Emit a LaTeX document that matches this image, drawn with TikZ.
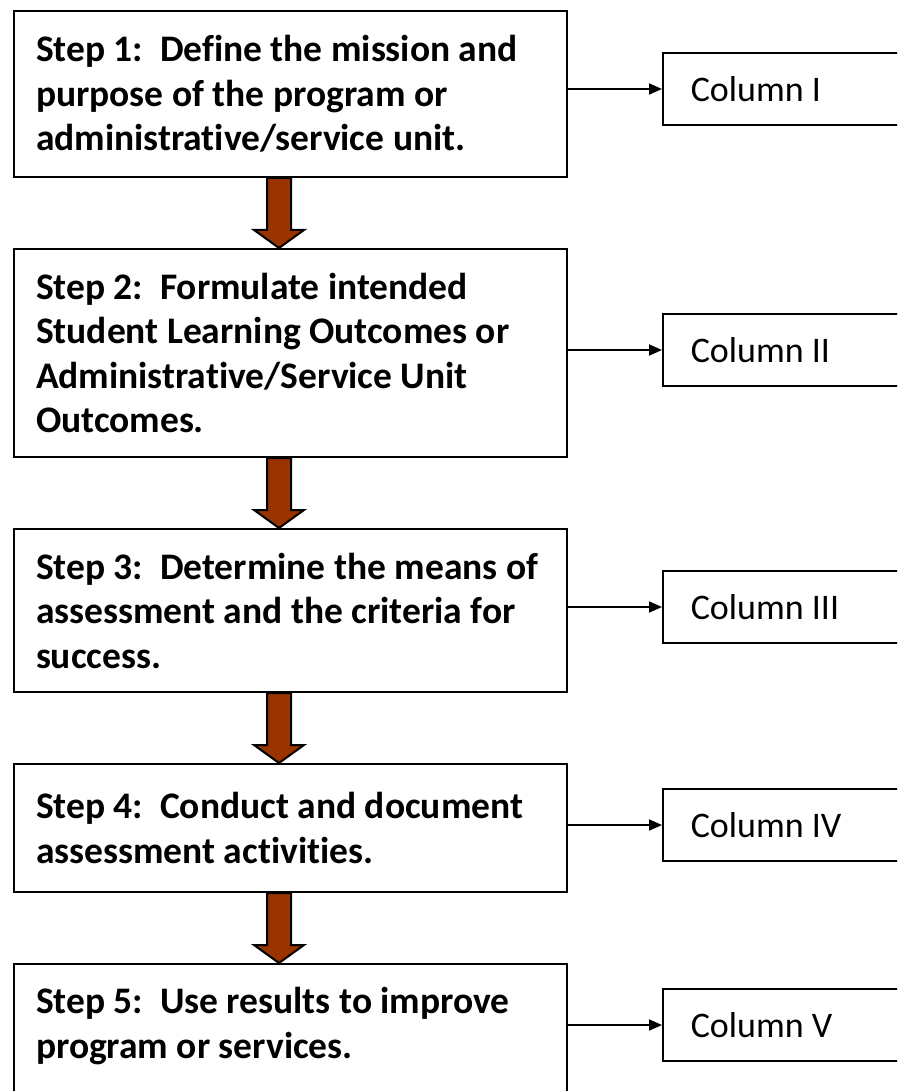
\documentclass[tikz,border=0pt]{standalone}
\usepackage{fontspec}
\setmainfont{Carlito}[Ligatures=NoCommon]
\usetikzlibrary{arrows.meta,positioning,calc}
\definecolor{arrowbrown}{RGB}{153,51,0}
\tikzset{every picture/.style={line width=2pt}}

\begin{document}
\frenchspacing
\begin{tikzpicture}[x=1pt,y=-1pt,
    stepbox/.style={draw, anchor=north west, text width=509pt, inner xsep=22pt, inner ysep=0pt,
      align=flush left, font=\fontsize{37.5}{44.5}\selectfont\bfseries},
    colbox/.style={draw, anchor=west, line width=1.5pt, minimum height=72pt, text width=204pt,
      inner xsep=28pt, align=flush left, font=\fontsize{36}{44}\selectfont},
    blockarrow/.style={draw, line width=2pt, fill=arrowbrown, line join=miter},
    link/.style={-{Triangle[length=13pt,width=11pt]}, line width=1.8pt}]
    \clip (0,0) rectangle (897,1091);

    % Steps
    \node[stepbox, minimum height=166pt] (s1) at (13,10)
      {Step 1:~ Define the mission and\\purpose of the program or\\administrative/service unit.};
    \node[stepbox, minimum height=208pt, below=70pt of s1] (s2)
      {Step 2:~ Formulate intended\\Student Learning Outcomes or\\Administrative/Service Unit\\Outcomes.};
    \node[stepbox, minimum height=163pt, below=70pt of s2] (s3)
      {Step 3:~ Determine the means of\\assessment and the criteria for\\success.};
    \node[stepbox, minimum height=128pt, below=70pt of s3] (s4)
      {Step 4:~ Conduct and document\\assessment activities.};
    \node[stepbox, minimum height=162pt, below=70pt of s4] (s5)
      {Step 5:~ Use results to improve\\program or services.\\\mbox{}};

    % Columns
    \node[colbox] (c1) at (662,89) {Column I};
    \node[colbox] (c2) at (662,350) {Column II};
    \node[colbox] (c3) at (662,607) {Column III};
    \node[colbox] (c4) at (662,825) {Column IV};
    \node[colbox] (c5) at (662,1025) {Column V};

    % Block arrows between steps
    \foreach \a/\b in {s1/s2,s2/s3,s3/s4,s4/s5} {
      \draw[blockarrow] ($(\a.south)+(-23.5,0)$) -- ($(\b.north)+(-23.5,-18)$)
        -- ($(\b.north)+(-36.5,-18)$) -- ($(\b.north)+(-11.5,0)$)
        -- ($(\b.north)+(13.5,-18)$) -- ($(\b.north)+(0.5,-18)$)
        -- ($(\a.south)+(0.5,0)$) -- cycle;
    }

    % Links to columns
    \foreach \i in {1,...,5} {
      \draw[link] (c\i.west -| s\i.east) -- (c\i.west);
    }
\end{tikzpicture}
\end{document}
